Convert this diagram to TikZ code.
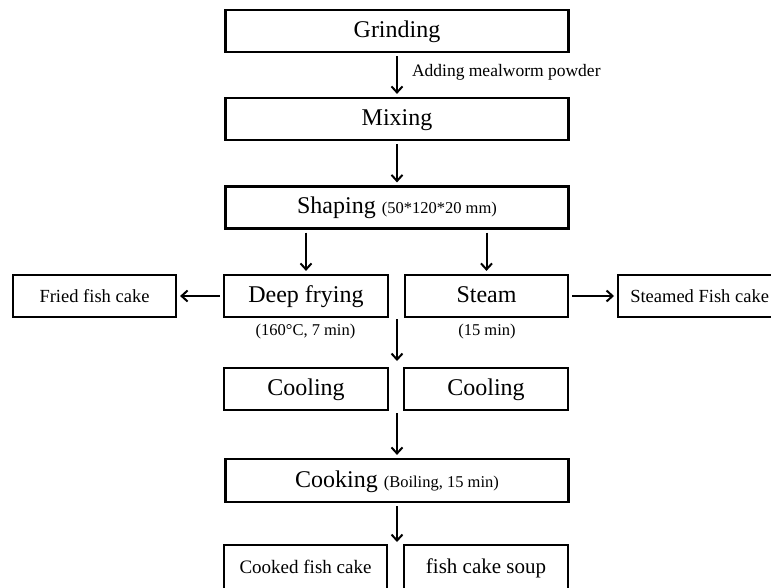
\documentclass[tikz,border=0pt]{standalone}
\usepackage{fontspec}
\setmainfont{Liberation Serif}
\usetikzlibrary{arrows.meta, positioning}
\tikzset{
  every picture/.style={>={Straight Barb[length=6pt, width=11pt]}},
  caja/.style={draw, line width=2.2pt, inner sep=0pt, minimum width=343pt, minimum height=42pt,
               text height=17pt, text depth=4pt, font=\fontsize{24}{28}\selectfont, align=center},
  cajam/.style={caja, minimum width=164pt},
  lado/.style={caja, minimum width=163pt, text height=14pt, text depth=2pt, font=\fontsize{18.5}{22}\selectfont},
  nota/.style={inner sep=0pt, font=\fontsize{16.5}{20}\selectfont},
  flecha/.style={->, line width=2pt, shorten <=3pt, shorten >=3pt},
}
\begin{document}
\begin{tikzpicture}[x=1pt, y=-1pt]
  \useasboundingbox (0,0) rectangle (771,588);
  \node[caja] (G) at (397,31) {Grinding};
  \node[caja] (M) at (397,119) {Mixing};
  \node[caja] (S) at (397,207.5) {Shaping {\fontsize{16.5}{20}\selectfont(50*120*20 mm)}};
  \draw[flecha] (G) -- node[nota, right, xshift=14pt, yshift=3pt, font=\fontsize{17.5}{20}\selectfont] {Adding mealworm powder} (M);
  \draw[flecha] (M) -- (S);
  % dos ramas
  \node[cajam] (F) at (306,296) {Deep frying};
  \node[cajam, minimum width=163pt] (V) at (486.5,296) {Steam};
  \node[lado] (FF) at (94.5,296) {Fried fish cake};
  \node[lado, anchor=west] (VF) at (617,296) {Steamed Fish cake};
  \draw[flecha] (F |- S.south) -- (F);
  \draw[flecha] (V |- S.south) -- (V);
  \draw[flecha] (F) -- (FF);
  \draw[flecha] (V) -- (VF);
  \node[nota] (tF) at (305.5,332) {(160°C, 7 min)};
  \node[nota] (tV) at (487,332) {(15 min)};
  \node[cajam] (C1) at (306,389) {Cooling};
  \node[cajam] (C2) at (486,389) {Cooling};
  \coordinate (a1) at (397,319);
  \coordinate (a2) at (397,361);
  \draw[flecha, shorten <=0pt, shorten >=0pt] (a1) -- (a2);
  \node[caja, minimum height=43pt] (K) at (397,480.5) {Cooking {\fontsize{16.5}{20}\selectfont(Boiling, 15 min)}};
  \coordinate (b1) at (397,413);
  \draw[flecha, shorten <=0pt] (b1) -- (K);
  \node[cajam, minimum width=163pt, minimum height=44pt, text height=14pt, text depth=2pt,
        font=\fontsize{19}{22}\selectfont] (P1) at (305.5,567) {Cooked fish cake};
  \node[cajam, minimum height=44pt, text height=15pt, text depth=3pt,
        font=\fontsize{21}{24}\selectfont] (P2) at (486,567) {fish cake soup};
  \coordinate (c1) at (397,542);
  \draw[flecha, shorten >=0pt] (K) -- (c1);
\end{tikzpicture}
\end{document}
